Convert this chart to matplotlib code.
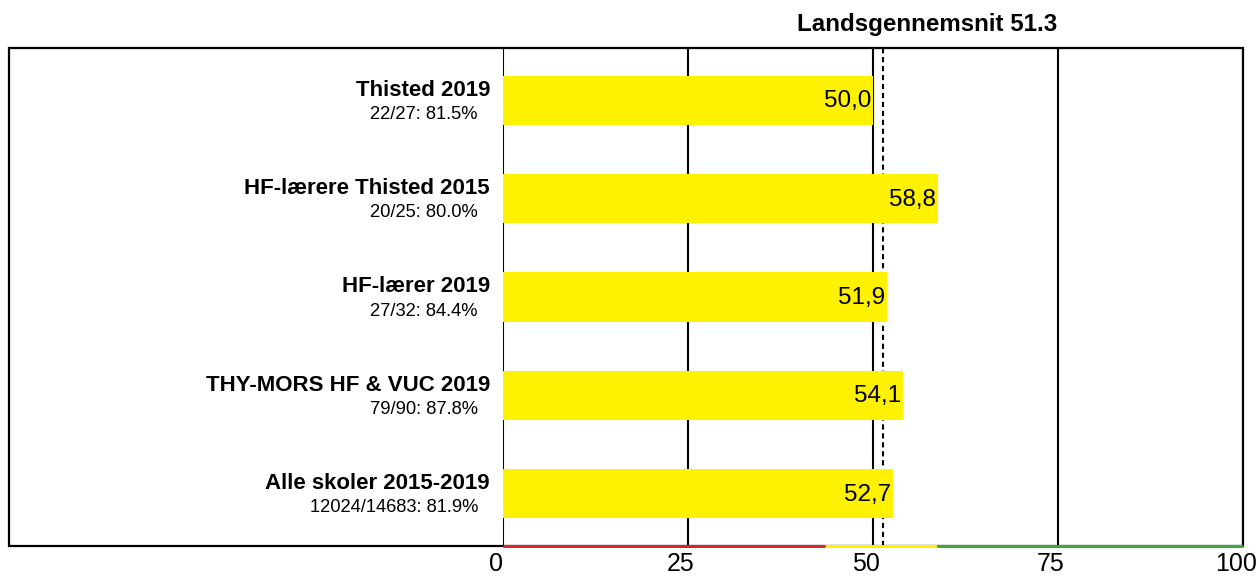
import matplotlib
matplotlib.use('Agg')
import matplotlib.pyplot as plt
from matplotlib.patches import Rectangle
from matplotlib.transforms import ScaledTranslation

plt.rcParams['font.family'] = ['Liberation Sans', 'DejaVu Sans']

# data
groups = ['Thisted 2019', 'HF-lærere Thisted 2015', 'HF-lærer 2019',
          'THY-MORS HF & VUC 2019', 'Alle skoler 2015-2019']
responses = ['22/27: 81.5%', '20/25: 80.0%', '27/32: 84.4%',
             '79/90: 87.8%', '12024/14683: 81.9%']
scores = [50.0, 58.8, 51.9, 54.1, 52.7]
national_avg = 51.3
xticks = [0, 25, 50, 75, 100]
# colour bands along the bottom axis
bands = [(0, 43.5, '#d9262c'), (43.5, 58.7, '#fff000'), (58.7, 100, '#3aa846')]

W, H = 1256, 576
fig = plt.figure(figsize=(W / 100, H / 100), dpi=100)
ax = fig.add_axes([503 / W, 30 / H, 740 / W, 498 / H])
ax.patch.set_alpha(0)
ax.set_zorder(2)

# outer frame
fig.patches.append(Rectangle((9 / W, 30 / H), (1243 - 9) / W, 498 / H,
                             transform=fig.transFigure, fill=False,
                             edgecolor='black', linewidth=1.6, zorder=0))

ypos = list(range(len(groups)))
ax.barh(ypos, scores, height=0.5, color='#fff200', zorder=3)

for x in xticks:
    ax.axvline(x, color='black', linewidth=1.5, zorder=1)
ax.axvline(national_avg, color='black', linewidth=1.5,
           linestyle=(0, (2.5, 1.8)), zorder=1)

for y, v in zip(ypos, scores):
    ax.annotate(f'{v:.1f}'.replace('.', ','), xy=(v, y), xytext=(-2, -1),
                textcoords='offset pixels', ha='right', va='center',
                fontsize=17.5, zorder=4)

for y, g, r in zip(ypos, groups, responses):
    ax.annotate(g, xy=(0, y), xytext=(-13, 10), textcoords='offset pixels',
                ha='right', va='center', fontsize=16, fontweight='bold',
                annotation_clip=False)
    ax.annotate(r, xy=(0, y), xytext=(-25, -14), textcoords='offset pixels',
                ha='right', va='center', fontsize=13.2, annotation_clip=False)

for x0, x1, c in bands:
    ax.plot([x0, x1], [0, 0], color=c, linewidth=2.2, solid_capstyle='butt',
            transform=ax.get_xaxis_transform(), clip_on=False, zorder=5)

ax.set_xlim(0, 100)
ax.set_ylim(4.53, -0.53)
ax.set_xticks(xticks)
ax.set_yticks([])
ax.tick_params(axis='x', length=0, labelsize=18, pad=4.5)
shift = ScaledTranslation(-7 / 100, 0, fig.dpi_scale_trans)
for lab in ax.get_xticklabels():
    lab.set_transform(lab.get_transform() + shift)
for s in ax.spines.values():
    s.set_visible(False)

fig.text(927 / W, 1 - 24 / H, f'Landsgennemsnit {national_avg}',
         ha='center', va='center', fontsize=17.4, fontweight='bold')

fig.savefig('out.png', dpi=100)
